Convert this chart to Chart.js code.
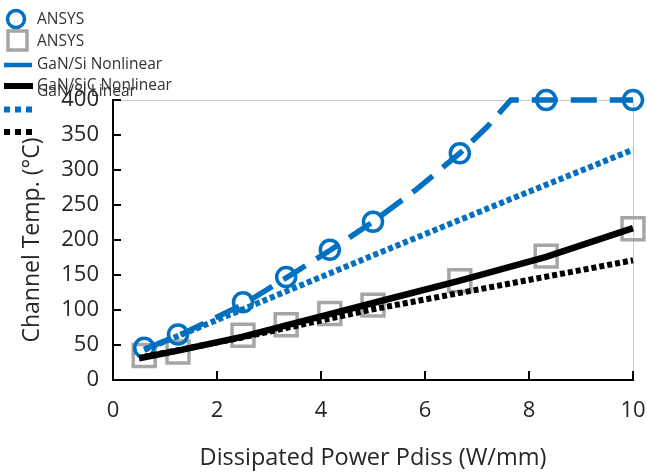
<!DOCTYPE html>
<html>
<head>
<meta charset="utf-8">
<script src="https://cdn.jsdelivr.net/npm/chart.js@4/dist/chart.umd.min.js"></script>
<style>
html,body{margin:0;padding:0;background:#fff;}
#wrap{width:647px;height:474px;position:relative;}
</style>
</head>
<body>
<div id="wrap"><canvas id="c" width="647" height="474"></canvas></div>
<script>
// ---- data ----
const xTicks = [0, 2, 4, 6, 8, 10];
const yTicks = [0, 50, 100, 150, 200, 250, 300, 350, 400];

const ansysPower   = [0.6, 1.25, 2.5, 3.33, 4.17, 5.0, 6.67, 8.33, 10];
const ansysGaNSi   = [46, 65, 111, 147, 186, 226, 324, 400, 400];
const ansysGaNSiC  = [35, 40, 64, 79, 95, 107, 142, 177, 216];

const nlSiPower    = [0.6, 1.25, 2.5, 3.33, 4.17, 5.0, 5.83, 6.67, 7.2, 7.65, 8.33, 10];
const nlSiTemp     = [44, 63, 108, 146, 185, 226, 272, 324, 362, 400, 400, 400];

const nlSiCPower   = [0.5, 1.25, 2.5, 3.33, 4.17, 5.0, 6.67, 8.33, 10];
const nlSiCTemp    = [31, 42, 62, 78, 94, 110, 142, 176, 217];

const linSiPower   = [0.6, 2.5, 5.0, 7.5, 10];
const linSiTemp    = [43, 101, 178, 254, 329];

const linSiCPower  = [0.6, 2.5, 5.0, 7.5, 10];
const linSiCTemp   = [33, 61, 101, 136, 171];

const labels = ['ANSYS', 'ANSYS', 'GaN/Si Nonlinear', 'GaN/SiC Nonlinear', 'GaN/Si Linear', 'GaN/SiC Linear'];

const pts = (xs, ys) => xs.map((x, i) => ({x: x, y: ys[i]}));

const BLUE = '#0070C0';
const GRAY = '#A6A6A6';
const FONT = "'Open Sans', 'Noto Sans', sans-serif";

// inward tick marks + gray top/right frame
const frame = {
  id: 'frame',
  beforeDatasetsDraw(chart) {
    const {ctx, chartArea: a, scales} = chart;
    ctx.save();
    ctx.strokeStyle = '#C8C8C8';
    ctx.lineWidth = 1;
    ctx.beginPath();
    ctx.moveTo(a.left, a.top + 0.5); ctx.lineTo(a.right + 0.5, a.top + 0.5);
    ctx.lineTo(a.right + 0.5, a.bottom);
    ctx.stroke();
    ctx.strokeStyle = '#000';
    ctx.lineWidth = 2;
    ctx.beginPath();
    yTicks.forEach(v => {
      const y = scales.y.getPixelForValue(v);
      ctx.moveTo(a.left, y); ctx.lineTo(a.left + 8, y);
    });
    xTicks.forEach(v => {
      const x = scales.x.getPixelForValue(v);
      ctx.moveTo(x, a.bottom); ctx.lineTo(x, a.bottom - 9);
    });
    ctx.stroke();
    ctx.restore();
  }
};

// legend drawn at top-left, overlapping as in the reference
const legend = {
  id: 'customLegend',
  afterDraw(chart) {
    const {ctx} = chart;
    const ds = chart.data.datasets;
    ctx.save();
    ctx.strokeStyle = BLUE; ctx.lineWidth = 3.5;
    ctx.beginPath(); ctx.arc(16, 19, 8.5, 0, Math.PI * 2); ctx.stroke();
    ctx.strokeStyle = GRAY; ctx.lineWidth = 3.5;
    ctx.strokeRect(8, 31, 19, 19);
    ctx.lineCap = 'butt';
    ctx.strokeStyle = BLUE; ctx.lineWidth = 4.5;
    ctx.beginPath(); ctx.moveTo(4, 65); ctx.lineTo(32, 65); ctx.stroke();
    ctx.strokeStyle = '#000'; ctx.lineWidth = 6;
    ctx.beginPath(); ctx.moveTo(4, 86); ctx.lineTo(33, 86); ctx.stroke();
    ctx.setLineDash([6, 5]);
    ctx.strokeStyle = BLUE; ctx.lineWidth = 6;
    ctx.beginPath(); ctx.moveTo(4, 109.5); ctx.lineTo(33, 109.5); ctx.stroke();
    ctx.strokeStyle = '#000';
    ctx.beginPath(); ctx.moveTo(4, 132); ctx.lineTo(33, 132); ctx.stroke();
    ctx.setLineDash([]);
    ctx.fillStyle = '#333';
    ctx.font = "15.5px " + FONT;
    ctx.textBaseline = 'middle';
    ctx.textAlign = 'left';
    ctx.fillText(ds[0].label, 37, 20);
    ctx.fillText(ds[1].label, 37, 42);
    ctx.fillText(ds[2].label, 37, 65);
    ctx.fillText(ds[3].label, 37, 86);
    ctx.fillText(ds[4].label, 37, 92);
    ctx.restore();
  }
};

new Chart(document.getElementById('c'), {
  type: 'scatter',
  data: {
    datasets: [
      {label: labels[0], data: pts(ansysPower, ansysGaNSi), showLine: false, pointStyle: 'circle', clip: false,
       pointRadius: 9.5, pointBorderWidth: 3.5, borderColor: BLUE, backgroundColor: 'rgba(0,0,0,0)', order: 2},
      {label: labels[1], data: pts(ansysPower, ansysGaNSiC), showLine: false, pointStyle: 'rect', clip: false,
       pointRadius: 15.5, pointBorderWidth: 3.5, borderColor: GRAY, backgroundColor: 'rgba(0,0,0,0)', order: 3},
      {label: labels[2], data: pts(nlSiPower, nlSiTemp), showLine: true, pointRadius: 0, borderColor: BLUE, clip: false,
       borderWidth: 5.5, borderDash: [26, 13], order: 1},
      {label: labels[3], data: pts(nlSiCPower, nlSiCTemp), showLine: true, pointRadius: 0, borderColor: '#000', clip: false,
       borderWidth: 6.5, order: 1},
      {label: labels[4], data: pts(linSiPower, linSiTemp), showLine: true, pointRadius: 0, borderColor: BLUE, clip: false,
       borderWidth: 6, borderDash: [5, 3], order: 1},
      {label: labels[5], data: pts(linSiCPower, linSiCTemp), showLine: true, pointRadius: 0, borderColor: '#000', clip: false,
       borderWidth: 6, borderDash: [5, 3], order: 1}
    ]
  },
  options: {
    responsive: false,
    animation: false,
    layout: {autoPadding: false, padding: {top: 100, right: 14, left: 0, bottom: 0}},
    plugins: {legend: {display: false}, tooltip: {enabled: false}},
    elements: {line: {tension: 0, borderCapStyle: 'butt'}},
    scales: {
      x: {
        type: 'linear', min: 0, max: 10,
        afterFit(s) { s.height = 94; s.paddingLeft = 0; s.paddingRight = 0; },
        afterBuildTicks(s) { s.ticks = xTicks.map(v => ({value: v})); },
        grid: {display: false, drawTicks: false},
        border: {display: true, color: '#000', width: 2},
        ticks: {padding: 18, color: '#262626', font: {family: FONT, size: 22}},
        title: {display: true, text: 'Dissipated Power Pdiss (W/mm)', color: '#262626',
                font: {family: FONT, size: 23.5}, padding: {top: 0, bottom: 2}}
      },
      y: {
        type: 'linear', min: 0, max: 400,
        afterFit(s) { s.width = 113; s.paddingTop = 0; s.paddingBottom = 0; },
        afterBuildTicks(s) { s.ticks = yTicks.map(v => ({value: v})); },
        grid: {display: false, drawTicks: false},
        border: {display: true, color: '#000', width: 2},
        ticks: {padding: 14, color: '#262626', font: {family: FONT, size: 22}},
        title: {display: true, text: 'Channel Temp. (°C)', color: '#262626',
                font: {family: FONT, size: 23}, padding: {top: 19, bottom: 0}}
      }
    }
  },
  plugins: [frame, legend]
});
</script>
</body>
</html>
